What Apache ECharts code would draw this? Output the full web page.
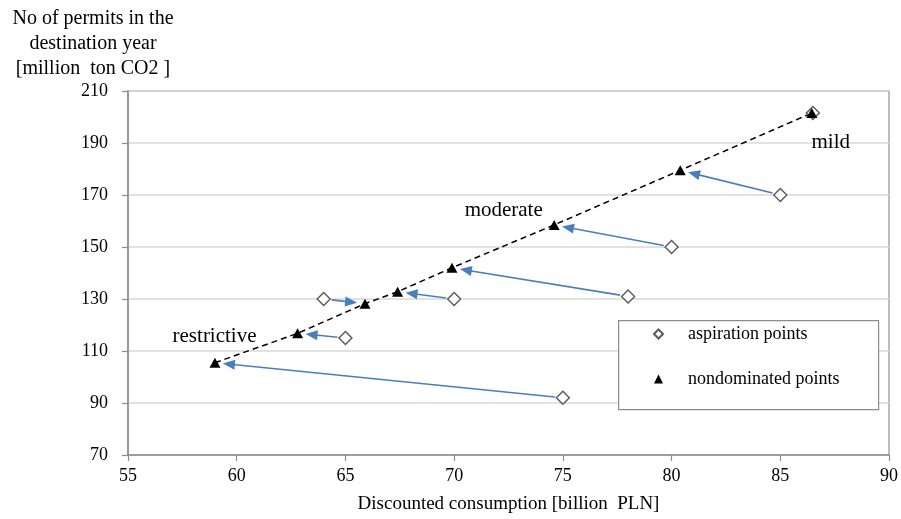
<!DOCTYPE html>
<html>
<head>
<meta charset="utf-8">
<script src="https://cdn.jsdelivr.net/npm/echarts@6.0.0/dist/echarts.min.js"></script>
<style>
html,body{margin:0;padding:0;background:#fff;}
#chart{width:901px;height:519px;}
</style>
</head>
<body>
<div id="chart"></div>
<script>
// ---- data ----
var aspX = [75, 65, 64, 70, 78, 80, 85, 86.5];
var aspY = [92, 115, 130, 130, 131, 150, 170, 201.5];
var ndX  = [59.0, 62.8, 65.9, 67.4, 69.9, 74.6, 80.4, 86.45];
var ndY  = [105.5, 116.8, 128.2, 132.8, 142.0, 158.5, 179.5, 201.5];
var annoText = ['restrictive', 'moderate', 'mild'];
var annoX = [58.98, 72.28, 87.32];
var annoY = [115.4, 164.1, 190.1];
var xTicks = [55, 60, 65, 70, 75, 80, 85, 90];
var yTicks = [70, 90, 110, 130, 150, 170, 190, 210];

var FONT = "'Liberation Serif', 'Times New Roman', serif";
var BLUE = '#4a7ebb';

var aspData = aspX.map(function (x, i) { return [x, aspY[i]]; });
var ndData = ndX.map(function (x, i) { return [x, ndY[i]]; });
var arrowData = aspX.map(function (x, i) { return [x, aspY[i], ndX[i], ndY[i]]; });
var annoData = annoText.map(function (t, i) { return { value: [annoX[i], annoY[i]], name: t }; });

var chart = echarts.init(document.getElementById('chart'), null, { renderer: 'canvas' });
chart.setOption({
  animation: false,
  backgroundColor: '#ffffff',
  textStyle: { fontFamily: FONT },
  grid: {
    left: 128, right: 12, top: 91, bottom: 62,
    show: true, borderColor: '#a6a6a6', borderWidth: 1.5, backgroundColor: 'transparent'
  },
  xAxis: {
    type: 'value', min: xTicks[0], max: xTicks[xTicks.length - 1], interval: 5,
    name: 'Discounted consumption [billion  PLN]',
    nameLocation: 'middle', nameGap: 40,
    nameTextStyle: { fontFamily: FONT, fontSize: 19, color: '#000' },
    axisLine: { show: true, lineStyle: { color: '#8c8c8c', width: 1.5 } },
    axisTick: { show: true, inside: false, length: 6, lineStyle: { color: '#8c8c8c', width: 1.2 } },
    axisLabel: { fontFamily: FONT, fontSize: 18, color: '#000', margin: 12 },
    splitLine: { show: false }
  },
  yAxis: {
    type: 'value', min: yTicks[0], max: yTicks[yTicks.length - 1], interval: 20,
    name: 'No of permits in the\ndestination year\n[million  ton CO2 ]',
    nameLocation: 'end', nameGap: 10,
    nameTextStyle: {
      fontFamily: FONT, fontSize: 20, color: '#000', lineHeight: 25,
      align: 'center', verticalAlign: 'bottom', padding: [0, 70, 0, 0]
    },
    axisLine: { show: true, lineStyle: { color: '#8c8c8c', width: 1.5 } },
    axisTick: { show: true, inside: false, length: 6, lineStyle: { color: '#8c8c8c', width: 1.2 } },
    axisLabel: { fontFamily: FONT, fontSize: 18, color: '#000', margin: 20 },
    splitLine: { show: true, lineStyle: { color: '#d9d9d9', width: 1.5 } }
  },
  legend: {
    show: true,
    left: 653, top: 324,
    orient: 'vertical',
    padding: 0,
    itemGap: 25,
    itemWidth: 9, itemHeight: 9,
    data: ['aspiration points', 'nondominated points'],
    textStyle: { fontFamily: FONT, fontSize: 18, color: '#000', lineHeight: 20, padding: [0, 0, 0, 20] }
  },
  graphic: [{
    type: 'rect', left: 618, top: 320, z: 1,
    shape: { width: 260, height: 89 },
    style: { fill: '#ffffff', stroke: '#8c8c8c', lineWidth: 1.2 }
  }],
  series: [
    {
      name: 'frontier', type: 'line', data: ndData, symbol: 'none', z: 2,
      lineStyle: { color: '#000', width: 1.5, type: [6, 4] }, silent: true
    },
    {
      name: 'arrows', type: 'custom', data: arrowData, z: 3, silent: true,
      encode: { x: [0, 2], y: [1, 3] },
      renderItem: function (params, api) {
        var a = api.coord([api.value(0), api.value(1)]);
        var b = api.coord([api.value(2), api.value(3)]);
        var dx = b[0] - a[0], dy = b[1] - a[1];
        var L = Math.sqrt(dx * dx + dy * dy);
        if (L < 20) return null;
        var ux = dx / L, uy = dy / L;
        var s = [a[0] + ux * 8, a[1] + uy * 8];
        var t = [b[0] - ux * 8, b[1] - uy * 8];
        var hl = 12, hw = 5;
        var base = [t[0] - ux * hl, t[1] - uy * hl];
        var px = -uy, py = ux;
        return {
          type: 'group', children: [
            { type: 'line', shape: { x1: s[0], y1: s[1], x2: base[0] + ux * 2, y2: base[1] + uy * 2 },
              style: { stroke: BLUE, lineWidth: 1.6 } },
            { type: 'polygon', shape: { points: [t, [base[0] + px * hw, base[1] + py * hw], [base[0] - px * hw, base[1] - py * hw]] },
              style: { fill: BLUE } }
          ]
        };
      }
    },
    {
      name: 'aspiration points', type: 'scatter', data: aspData, z: 4,
      symbol: 'diamond', symbolSize: 13,
      itemStyle: { color: '#ffffff', borderColor: '#595959', borderWidth: 1.4, opacity: 1 }
    },
    {
      name: 'nondominated points', type: 'scatter', data: ndData, z: 5,
      symbol: 'triangle', symbolSize: [11, 10],
      itemStyle: { color: '#000000', opacity: 1 }
    },
    {
      name: 'labels', type: 'scatter', data: annoData, z: 6, symbolSize: 0, silent: true,
      itemStyle: { opacity: 1 },
      label: {
        show: true, position: 'inside', formatter: '{b}', opacity: 1,
        fontFamily: FONT, fontSize: 21, color: '#000', textBorderWidth: 0
      }
    }
  ]
});
</script>
</body>
</html>
